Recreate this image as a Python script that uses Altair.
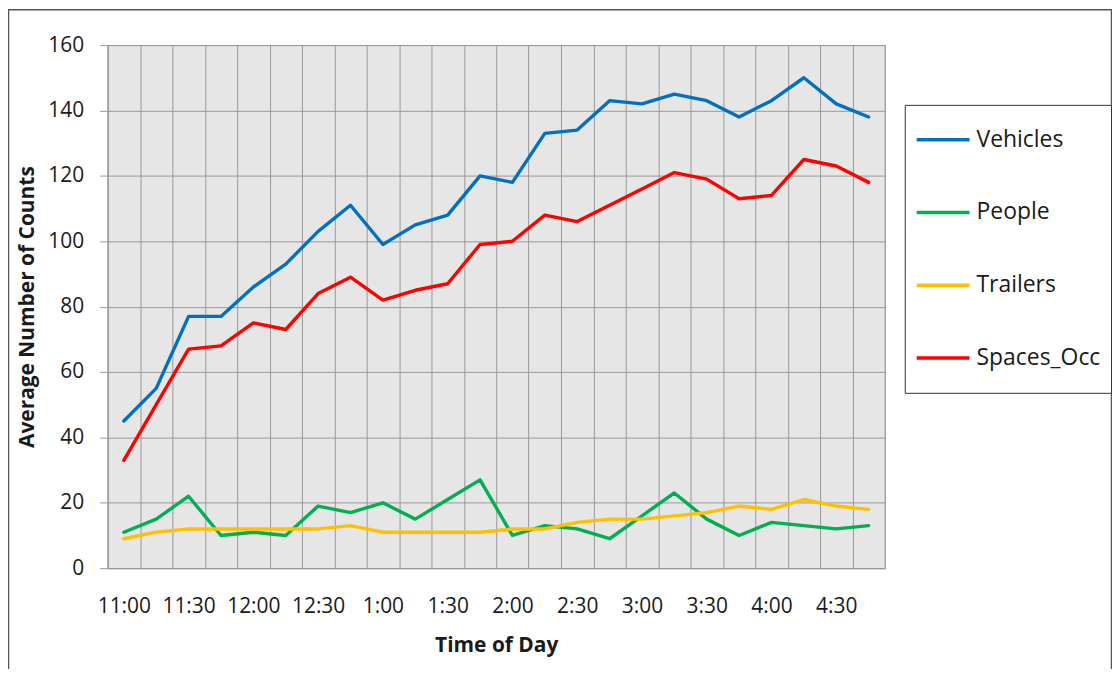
import altair as alt
import pandas as pd

times = ["11:00", "11:15", "11:30", "11:45", "12:00", "12:15", "12:30", "12:45",
         "1:00", "1:15", "1:30", "1:45", "2:00", "2:15", "2:30", "2:45",
         "3:00", "3:15", "3:30", "3:45", "4:00", "4:15", "4:30", "4:45"]
vehicles = [45, 55, 77, 77, 86, 93, 103, 111, 99, 105, 108, 120,
            118, 133, 134, 143, 142, 145, 143, 138, 143, 150, 142, 138]
people = [11, 15, 22, 10, 11, 10, 19, 17, 20, 15, 21, 27,
          10, 13, 12, 9, 16, 23, 15, 10, 14, 13, 12, 13]
trailers = [9, 11, 12, 12, 12, 12, 12, 13, 11, 11, 11, 11,
            12, 12, 14, 15, 15, 16, 17, 19, 18, 21, 19, 18]
spaces_occ = [33, 50, 67, 68, 75, 73, 84, 89, 82, 85, 87, 99,
              100, 108, 106, 111, 116, 121, 119, 113, 114, 125, 123, 118]
series_names = ["Vehicles", "People", "Trailers", "Spaces_Occ"]
series_colors = ["#0070C0", "#00B050", "#FFC000", "#FF0000"]
y_ticks = [0, 20, 40, 60, 80, 100, 120, 140, 160]

rows = []
for name, vals in zip(series_names, [vehicles, people, trailers, spaces_occ]):
    for i, (t, v) in enumerate(zip(times, vals)):
        rows.append({"idx": i, "time": t, "series": name, "value": v})
df = pd.DataFrame(rows)

n = len(times)
W, H = 780, 525
boundaries = [i - 0.5 for i in range(n + 1)]
label_array = "[" + ",".join("'" + t + "'" for t in times) + "]"
label_expr = ("((datum.value + 0.5) % 2 == 0 && datum.value + 0.5 < " + str(n) + ") ? "
              + label_array + "[datum.value + 0.5] : ''")

FONT = "Open Sans"
GRID = "#999999"
TEXT = "#1a1a1a"

lines = alt.Chart(df).mark_line(strokeWidth=3.4, strokeJoin="round", strokeCap="round").encode(
    x=alt.X("idx:Q",
            scale=alt.Scale(domain=[-0.5, n - 0.5], nice=False, zero=False),
            axis=alt.Axis(values=boundaries, labelExpr=label_expr, labelOffset=W / n / 2,
                          labelFlush=False, labelOverlap=False, labelBound=False,
                          ticks=False, tickSize=0, grid=True, gridColor=GRID, gridWidth=1,
                          domainColor=GRID, labelFontSize=21, labelFont=FONT, labelColor=TEXT,
                          labelPadding=27, title="Time of Day", titleFont=FONT,
                          titleFontSize=21, titleFontWeight="bold", titleColor=TEXT,
                          titlePadding=19)),
    y=alt.Y("value:Q",
            scale=alt.Scale(domain=[0, 160], nice=False),
            axis=alt.Axis(values=y_ticks, grid=True, gridColor=GRID, gridWidth=1,
                          domainColor=GRID, tickColor=GRID, tickSize=8,
                          labelFontSize=21, labelFont=FONT, labelColor=TEXT, labelPadding=16,
                          title="Average Number of Counts", titleFont=FONT, titleFontSize=21,
                          titleFontWeight="bold", titleColor=TEXT, titlePadding=10)),
    color=alt.Color("series:N",
                    scale=alt.Scale(domain=series_names, range=series_colors),
                    legend=alt.Legend(title=None, orient="none", legendX=800, legendY=60,
                                      symbolType="stroke", symbolSize=2809,
                                      symbolStrokeWidth=3.5, labelFont=FONT, labelFontSize=23,
                                      labelColor=TEXT, labelOffset=5, padding=10,
                                      clipHeight=50, rowPadding=23,
                                      strokeColor="#333333", fillColor="white",
                                      labelLimit=300)),
    order=alt.Order("idx:Q"),
)

frame = alt.Chart(pd.DataFrame({"k": [0]})).mark_rect(
    fill=None, stroke="#555555", strokeWidth=1.5
).encode(
    x=alt.value(-99.5), x2=alt.value(1007.5), y=alt.value(-35.5), y2=alt.value(700)
)

chart = alt.layer(frame, lines).properties(
    width=W, height=H,
    autosize=alt.AutoSizeParams(type="none"),
    padding={"left": 100, "top": 36, "right": 228, "bottom": 100},
    background="white",
).configure_view(fill="#E6E6E6", stroke=GRID, strokeWidth=1)

chart.save("out.html", embed_options={"renderer": "svg", "actions": False})
